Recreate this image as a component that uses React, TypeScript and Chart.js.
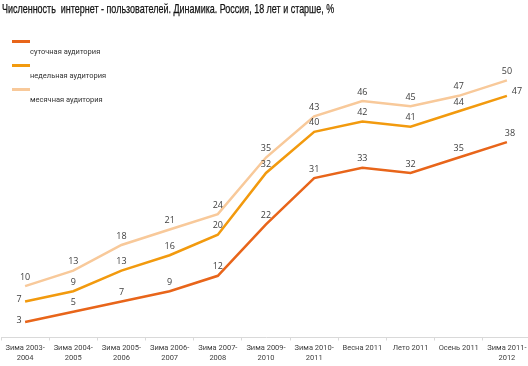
import React, { useEffect, useRef } from "react";
import { Chart, registerables } from "chart.js";

Chart.register(...registerables);

const TITLE = "Численность  интернет - пользователей. Динамика. Россия, 18 лет и старше, %";
const categories: string[][] = [
  ["Зима 2003-", "2004"],
  ["Зима 2004-", "2005"],
  ["Зима 2005-", "2006"],
  ["Зима 2006-", "2007"],
  ["Зима 2007-", "2008"],
  ["Зима 2009-", "2010"],
  ["Зима 2010-", "2011"],
  ["Весна 2011"],
  ["Лето 2011"],
  ["Осень 2011"],
  ["Зима 2011-", "2012"],
];
const seriesNames = ["суточная аудитория", "недельная аудитория", "месячная аудитория"];
const daily = [3, 5, 7, 9, 12, 22, 31, 33, 32, 35, 38];
const weekly = [7, 9, 13, 16, 20, 32, 40, 42, 41, 44, 47];
const monthly = [10, 13, 18, 21, 24, 35, 43, 46, 45, 47, 50];
const colors = ["#E8651A", "#F29A0E", "#F8C99A"];

const labelPlugin = {
  id: "pointLabels",
  afterDatasetsDraw(chart: any) {
    const ctx = chart.ctx;
    ctx.save();
    ctx.font = "9px 'Open Sans', sans-serif";
    ctx.fillStyle = "#404040";
    chart.data.datasets.forEach((ds: any, di: number) => {
      const meta = chart.getDatasetMeta(di);
      meta.data.forEach((pt: any, i: number) => {
        const v = ds.data[i];
        let x = pt.x;
        let y = pt.y - 9;
        ctx.textAlign = "center";
        ctx.textBaseline = "middle";
        if (i === 0 && di < 2) {
          x = pt.x - 6;
          y = pt.y - 2;
        } else if (i === ds.data.length - 1 && di === 1) {
          x = pt.x + 10;
          y = pt.y - 4;
        } else if (i === ds.data.length - 1 && di === 0) {
          x = pt.x + 3;
        }
        ctx.fillText(String(v), x, y);
      });
    });
    ctx.restore();
  },
};

export default function App() {
  const ref = useRef<HTMLCanvasElement | null>(null);
  useEffect(() => {
    document.body.style.margin = "0";
    const chart = new Chart(ref.current as HTMLCanvasElement, {
      type: "line",
      data: {
        labels: categories,
        datasets: [
          { label: seriesNames[0], data: daily, borderColor: colors[0] },
          { label: seriesNames[1], data: weekly, borderColor: colors[1] },
          { label: seriesNames[2], data: monthly, borderColor: colors[2] },
        ].map((d) => ({ ...d, borderWidth: 2.5, pointRadius: 0, tension: 0, fill: false })),
      },
      options: {
        responsive: false,
        animation: false,
        layout: { padding: { top: 29, left: 1, right: 1, bottom: 0 } },
        plugins: { legend: { display: false }, title: { display: false }, tooltip: { enabled: false } },
        scales: {
          y: { display: false, min: 0, max: 60 },
          x: {
            offset: true,
            border: { color: "#D9D9D9", width: 1 },
            grid: { offset: true, drawOnChartArea: false, color: "#D9D9D9", tickLength: 3 },
            ticks: {
              maxRotation: 0,
              autoSkip: false,
              padding: 3,
              color: "#404040",
              font: { family: "Roboto, sans-serif", size: 7.5, lineHeight: 1.3 },
            },
          },
        },
      },
      plugins: [labelPlugin],
    });
    return () => chart.destroy();
  }, []);

  return (
    <div style={{ position: "relative", width: 528, height: 366, background: "#fff", overflow: "hidden" }}>
      <canvas ref={ref} width={532} height={366} style={{ position: "absolute", left: 0, top: 0 }} />
      <div
        style={{
          position: "absolute",
          left: 2,
          top: 1,
          fontFamily: "'Liberation Sans', Arial, sans-serif",
          fontSize: 13,
          color: "#111",
          whiteSpace: "pre",
          transform: "scaleX(0.69)",
          transformOrigin: "left top",
          WebkitTextStroke: "0.25px #111",
        }}
      >
        {TITLE}
      </div>
      {seriesNames.map((n, i) => (
        <div key={n}>
          <div
            style={{
              position: "absolute",
              left: 12,
              top: 40 + i * 24,
              width: 18,
              height: 3,
              background: colors[i],
            }}
          />
          <div
            style={{
              position: "absolute",
              left: 30,
              top: 47 + i * 24,
              fontFamily: "Roboto, sans-serif",
              fontSize: 7.5,
              color: "#333",
              whiteSpace: "pre",
            }}
          >
            {n}
          </div>
        </div>
      ))}
    </div>
  );
}
